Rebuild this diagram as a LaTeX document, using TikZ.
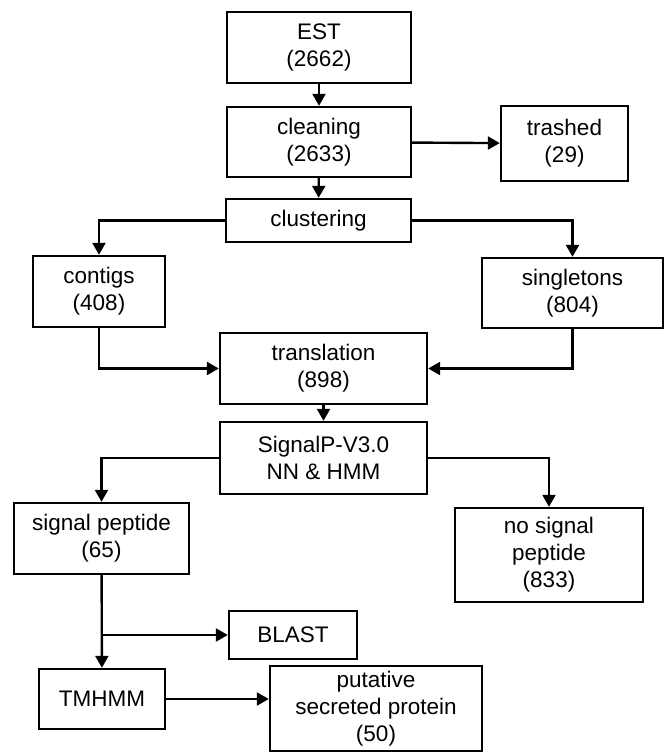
\documentclass[tikz,border=0pt]{standalone}
\usepackage{fontspec}
\setmainfont{Liberation Sans}
\usetikzlibrary{arrows.meta}

\begin{document}
\begin{tikzpicture}[
    x=1pt, y=-1pt,
    every node/.style={font=\fontsize{22.5}{27}\selectfont},
    box/.style={draw, line width=2.4pt, align=center, inner sep=0pt},
    flow/.style={line width=2.4pt, -{Triangle[length=12pt, width=13pt]}},
]

\useasboundingbox (0,0) rectangle (665,753);

% === Upper part: raw reads ===
\node[box, minimum width=184, minimum height=71] (est) at (319,47.5) {EST\\(2662)};
\node[box, minimum width=184, minimum height=70] (cleaning) at (319,142) {cleaning\\(2633)};
\node[box, minimum width=127, minimum height=75] (trashed) at (564.5,143.5) {trashed\\(29)};
\node[box, minimum width=185, minimum height=43] (clustering) at (318.5,220.5) {clustering};

% === Assembly ===
\node[box, minimum width=132, minimum height=71] (contigs) at (99,291.5) {contigs\\(408)};
\node[box, minimum width=181, minimum height=70] (singletons) at (572.5,293) {singletons\\(804)};
\node[box, minimum width=207, minimum height=71] (translation) at (323.5,368.5) {translation\\(898)};

% === Signal peptide prediction ===
\node[box, minimum width=207, minimum height=72] (signalp) at (323.5,458) {SignalP-V3.0\\NN \& HMM};
\node[box, minimum width=175, minimum height=71] (signal) at (101.5,538.5) {signal peptide\\(65)};
\node[box, minimum width=188, minimum height=94] (nosignal) at (549,555) {no signal\\peptide\\(833)};

% === Final filtering ===
\node[box, minimum width=128, minimum height=48] (blast) at (293,635) {BLAST};
\node[box, minimum width=126, minimum height=60] (tmhmm) at (102,699) {TMHMM};
\node[box, minimum width=212, minimum height=85] (putative) at (376,708.5) {putative\\secreted protein\\(50)};

% === Connectors ===
\draw[flow] (est) -- (cleaning);
\draw[flow] (cleaning) -- (trashed);
\draw[flow] (cleaning) -- (clustering);
\draw[flow] (clustering.west) -| (contigs.north);
\draw[flow] (clustering.east) -| (singletons.north);
\draw[flow] (contigs.south) |- (translation.west);
\draw[flow] (singletons.south) |- (translation.east);
\draw[flow] (translation) -- (signalp);
\draw[flow] (signalp.west) -| (signal.north);
\draw[flow] (signalp.east) -| (nosignal.north);
\draw[flow] (signal) -- (tmhmm);
\draw[flow] (signal.south |- blast.west) -- (blast.west);
\draw[flow] (tmhmm) -- (tmhmm -| putative.west);

\end{tikzpicture}
\end{document}
